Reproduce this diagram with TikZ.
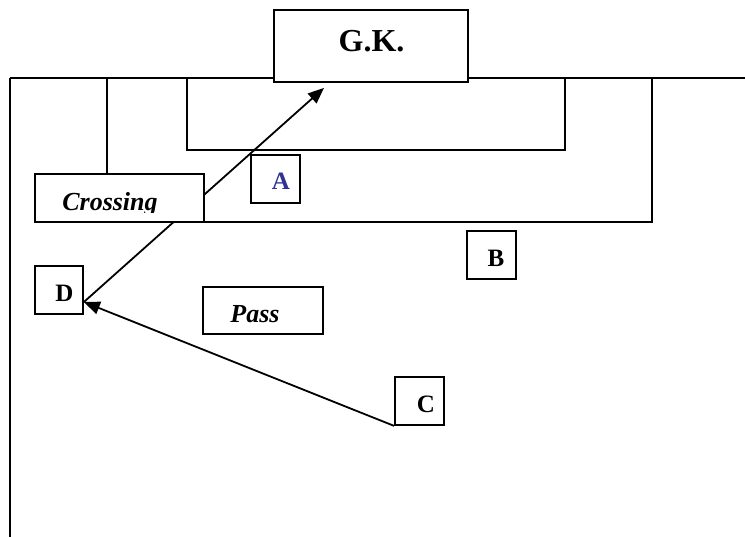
\documentclass[tikz,border=0pt]{standalone}
\usepackage{fontspec}
\setmainfont{Liberation Serif}
\usetikzlibrary{arrows.meta}
\definecolor{letterblue}{RGB}{50,50,150}

\begin{document}
\begin{tikzpicture}[
            x = 1pt, y = -1pt,
            box/.style = {
                draw,
                fill = white,
                line width = 1.8pt,
                minimum width = #1,
                minimum height = 48pt,
                inner sep = 0pt
            },
            box/.default = 48pt,
            tag/.style = {font = \fontsize{25}{30}\selectfont\bfseries, inner sep = 0pt, anchor = base},
            word/.style = {font = \fontsize{26}{30}\selectfont\bfseries\itshape, inner sep = 0pt, anchor = base},
            field/.style = {line width = 1.8pt},
            pass/.style = {line width = 1.8pt, -{Triangle[length=16pt, width=13pt]}}
            ]
            \useasboundingbox (0,0) rectangle (745,537);
            % pitch lines
            \draw[line width = 2.8pt] (10,78) -- (745,78);
            \draw[field] (10,78) -- (10,537);
            \draw[field] (107,78) |- (652,222) -- (652,78);
            \draw[field] (187,78) |- (565,150) -- (565,78);

            % boxes
            \node[box=194pt, minimum height=72pt] (GK) at (371,46) {};
            \node[box=49pt] (A) at (275.5,179) {};
            \node[box=49pt] (B) at (491.5,255) {};
            \node[box] (D) at (59,290) {};
            \node[box=120pt, minimum height=47pt] (Pass) at (263,310.5) {};
            \node[box=49pt] (C) at (419.5,401) {};

            % arrows
            \draw[pass] ([yshift=-12pt]D.east) -- ([xshift=-47pt,yshift=-5pt]GK.south);
            \draw[pass] (C.south west) -- ([yshift=-12pt]D.east);

            \node[box=169pt] (Cross) at (119.5,198) {};

            % labels
            \node[tag, font=\fontsize{32}{36}\selectfont\bfseries] (GKtext) at (371.5,52) {G.K.};
            \node[tag, text=letterblue] (Atext) at (281,190) {A};
            \node[tag] (Btext) at (496,267) {B};
            \node[tag] (Dtext) at (64.5,302) {D};
            \node[tag] (Ctext) at (426,413) {C};
            \node[word] (Passtext) at (255,323) {Pass};
            \begin{scope}
                \clip (35,174) rectangle (204,213);
                \node[word] (Crosstext) at (110,211) {Crossing};
            \end{scope}
        \end{tikzpicture}
\end{document}
